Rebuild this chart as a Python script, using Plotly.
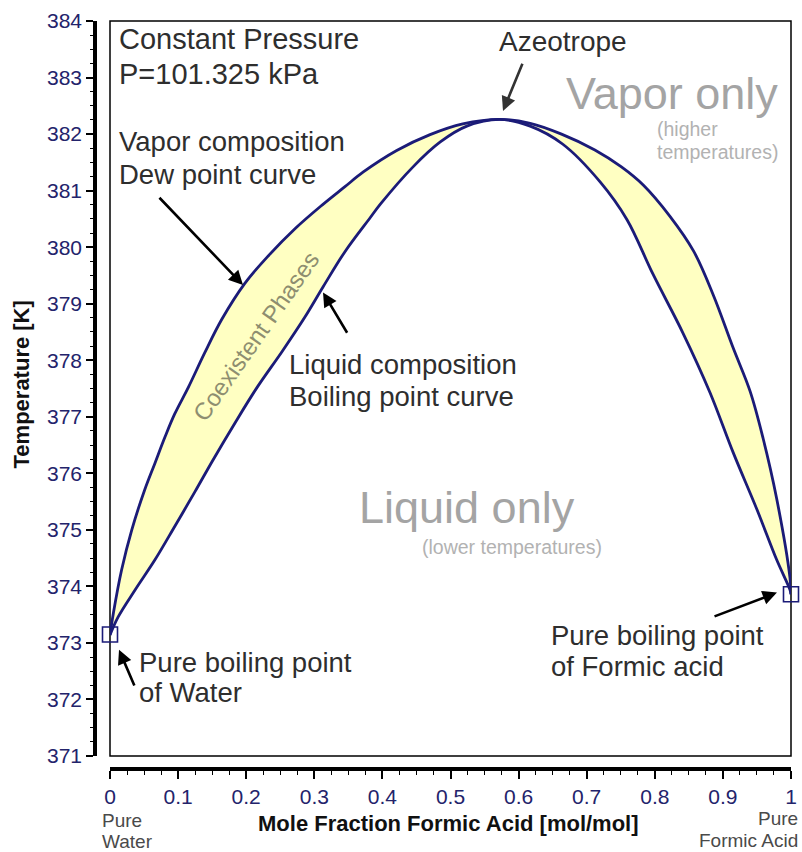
import plotly.graph_objects as go

# ---------------- data ----------------
# Vapor composition / dew point curve
dew_x = [0.0, 0.005, 0.017, 0.032, 0.051, 0.066, 0.081, 0.095, 0.115, 0.139,
         0.164, 0.198, 0.232, 0.272, 0.311, 0.345, 0.372, 0.421, 0.470, 0.518,
         0.572, 0.617, 0.663, 0.712, 0.751, 0.783, 0.822, 0.857, 0.886, 0.915,
         0.940, 0.959, 0.979, 0.9985, 1.0]
dew_T = [373.14, 373.53, 374.29, 375.00, 375.71, 376.18, 376.65, 377.05, 377.52, 378.13,
         378.72, 379.36, 379.84, 380.33, 380.74, 381.07, 381.33, 381.71, 381.99, 382.18,
         382.26, 382.19, 382.00, 381.72, 381.42, 381.10, 380.55, 379.93, 379.15, 378.22,
         377.45, 376.62, 375.55, 374.15, 373.86]

# Liquid composition / boiling point curve
liq_x = [0.0, 0.012, 0.037, 0.066, 0.095, 0.125, 0.150, 0.184, 0.216, 0.253,
         0.286, 0.313, 0.345, 0.382, 0.397, 0.445, 0.485, 0.524, 0.572, 0.617,
         0.665, 0.720, 0.759, 0.797, 0.841, 0.881, 0.915, 0.950, 0.979, 0.9985, 1.0]
liq_T = [373.14, 373.46, 373.94, 374.47, 375.06, 375.68, 376.21, 376.90, 377.52, 378.16,
         378.76, 379.30, 379.92, 380.52, 380.76, 381.42, 381.86, 382.14, 382.26, 382.14,
         381.82, 381.15, 380.49, 379.53, 378.49, 377.43, 376.37, 375.36, 374.47, 373.94, 373.86]

# Pure component boiling points
pure_x = [0.0, 1.0]
pure_T = [373.15, 373.86]

# Axis ranges
x_range = [0, 1]
y_range = [371, 384]

FONT = "Liberation Sans, Arial, Helvetica, sans-serif"
NAVY = "#1b1b78"
FILL = "#ffffc2"
TXT = "#2e2e2e"
GRAY_BIG = "#a4a4a4"
GRAY_SMALL = "#b2b2b2"
SMOOTH = 1.0

fig = go.Figure()

# coexistence region (between dew and boiling curves)
fig.add_trace(go.Scatter(
    x=dew_x + liq_x[::-1], y=dew_T + liq_T[::-1],
    fill="toself", fillcolor=FILL, mode="lines",
    line=dict(width=0, shape="spline", smoothing=SMOOTH),
    hoverinfo="skip", cliponaxis=False))

fig.add_trace(go.Scatter(x=dew_x, y=dew_T, mode="lines",
                         line=dict(color=NAVY, width=2.8, shape="spline", smoothing=SMOOTH),
                         cliponaxis=False, name="Dew point curve"))
fig.add_trace(go.Scatter(x=liq_x, y=liq_T, mode="lines",
                         line=dict(color=NAVY, width=2.8, shape="spline", smoothing=SMOOTH),
                         cliponaxis=False, name="Boiling point curve"))
fig.add_trace(go.Scatter(x=pure_x, y=pure_T, mode="markers",
                         marker=dict(symbol="square-open", size=15, color=NAVY,
                                     line=dict(width=1.6, color=NAVY)),
                         cliponaxis=False, name="Pure components"))

ann = []


def text(x, y, s, size=27, color=TXT, xanchor="left", angle=0, bold=False,
         xref="x", yref="y"):
    ann.append(dict(x=x, y=y, xref=xref, yref=yref, text=("<b>%s</b>" % s) if bold else s,
                    showarrow=False, xanchor=xanchor, yanchor="middle", textangle=angle,
                    font=dict(family=FONT, size=size, color=color)))


def arrow(x, y, ax, ay, color="black"):
    ann.append(dict(x=x, y=y, ax=ax, ay=ay, xref="x", yref="y", axref="x", ayref="y",
                    text="", showarrow=True, arrowhead=2, arrowsize=1.1, arrowwidth=2.6,
                    arrowcolor=color))


text(0.0103, 383.68, "Constant Pressure", size=29)
text(0.0103, 383.06, "P=101.325 kPa", size=29)
text(0.0103, 381.87, "Vapor composition", size=27.5)
text(0.0103, 381.29, "Dew point curve", size=27.5)
text(0.260, 377.92, "Liquid composition", size=27.5)
text(0.260, 377.36, "Boiling point curve", size=27.5)
text(0.665, 383.63, "Azeotrope", size=28, xanchor="center")
text(0.984, 382.71, "Vapor only", size=45, color=GRAY_BIG, xanchor="right")
text(0.800, 382.09, "(higher", size=19.5, color=GRAY_SMALL)
text(0.800, 381.68, "temperatures)", size=19.5, color=GRAY_SMALL)
text(0.363, 375.39, "Liquid only", size=45, color=GRAY_BIG)
text(0.455, 374.70, "(lower temperatures)", size=19.5, color=GRAY_SMALL)
text(0.0396, 372.66, "Pure boiling point", size=27.5)
text(0.0396, 372.12, "of Water", size=27.5)
text(0.645, 373.14, "Pure boiling point", size=27.5)
text(0.645, 372.58, "of Formic acid", size=27.5)
text(0.214, 378.42, "Coexistent Phases", size=24, color="#8e8e70", xanchor="center", angle=-55)

# texts outside the plotting area (paper coordinates)
text(0.0072, -0.0695, "Pure", size=19, color="#4a4a4a", xref="paper", yref="paper")
text(0.0072, -0.0975, "Water", size=19, color="#4a4a4a", xref="paper", yref="paper")
text(1.0129, -0.0668, "Pure", size=19, color="#4a4a4a", xanchor="right",
     xref="paper", yref="paper")
text(1.0129, -0.0962, "Formic Acid", size=19, color="#4a4a4a", xanchor="right",
     xref="paper", yref="paper")
text(0.5072, -0.0722, "Mole Fraction Formic Acid [mol/mol]", size=22, color="#111111",
     xanchor="center", bold=True, xref="paper", yref="paper")
text(-0.105, 377.57, "Temperature [K]", size=22, color="#111111", xanchor="center",
     angle=-90, bold=True, xref="paper")

arrow(0.1953, 379.33, 0.0705, 380.90)
arrow(0.3128, 379.20, 0.3495, 378.46)
arrow(0.5771, 382.41, 0.6065, 383.27, color="#333333")
arrow(0.0132, 372.88, 0.0367, 372.22)
arrow(0.9794, 373.89, 0.8855, 373.46)

tickfont = dict(family=FONT, size=21, color="#23236b")

fig.update_layout(
    width=802, height=852,
    margin=dict(l=95, r=11, t=21, b=83, autoexpand=False),
    paper_bgcolor="white", plot_bgcolor="white",
    showlegend=False,
    annotations=ann,
    shapes=[dict(type="rect", xref="x domain", yref="y domain", x0=0, x1=1, y0=0, y1=1,
                 line=dict(color="black", width=1.5), layer="below")],
    xaxis=dict(domain=[15 / 696, 1], range=x_range, anchor="free", position=0,
               showline=True, linewidth=3.5, linecolor="black",
               ticks="outside", ticklen=8, tickwidth=1.5, tickcolor="black",
               tick0=0, dtick=0.1, showgrid=False, zeroline=False, tickfont=tickfont,
               minor=dict(dtick=0.025, ticks="outside", ticklen=4, tickwidth=1,
                          tickcolor="black", showgrid=False)),
    yaxis=dict(domain=[13 / 748, 1], range=y_range, anchor="free", position=0,
               showline=True, linewidth=3.5, linecolor="black",
               ticks="outside", ticklen=7, tickwidth=1.5, tickcolor="black",
               tick0=371, dtick=1, showgrid=False, zeroline=False, tickfont=tickfont,
               minor=dict(dtick=0.25, ticks="outside", ticklen=3, tickwidth=1,
                          tickcolor="black", showgrid=False)),
)

fig.write_html("out.html")
